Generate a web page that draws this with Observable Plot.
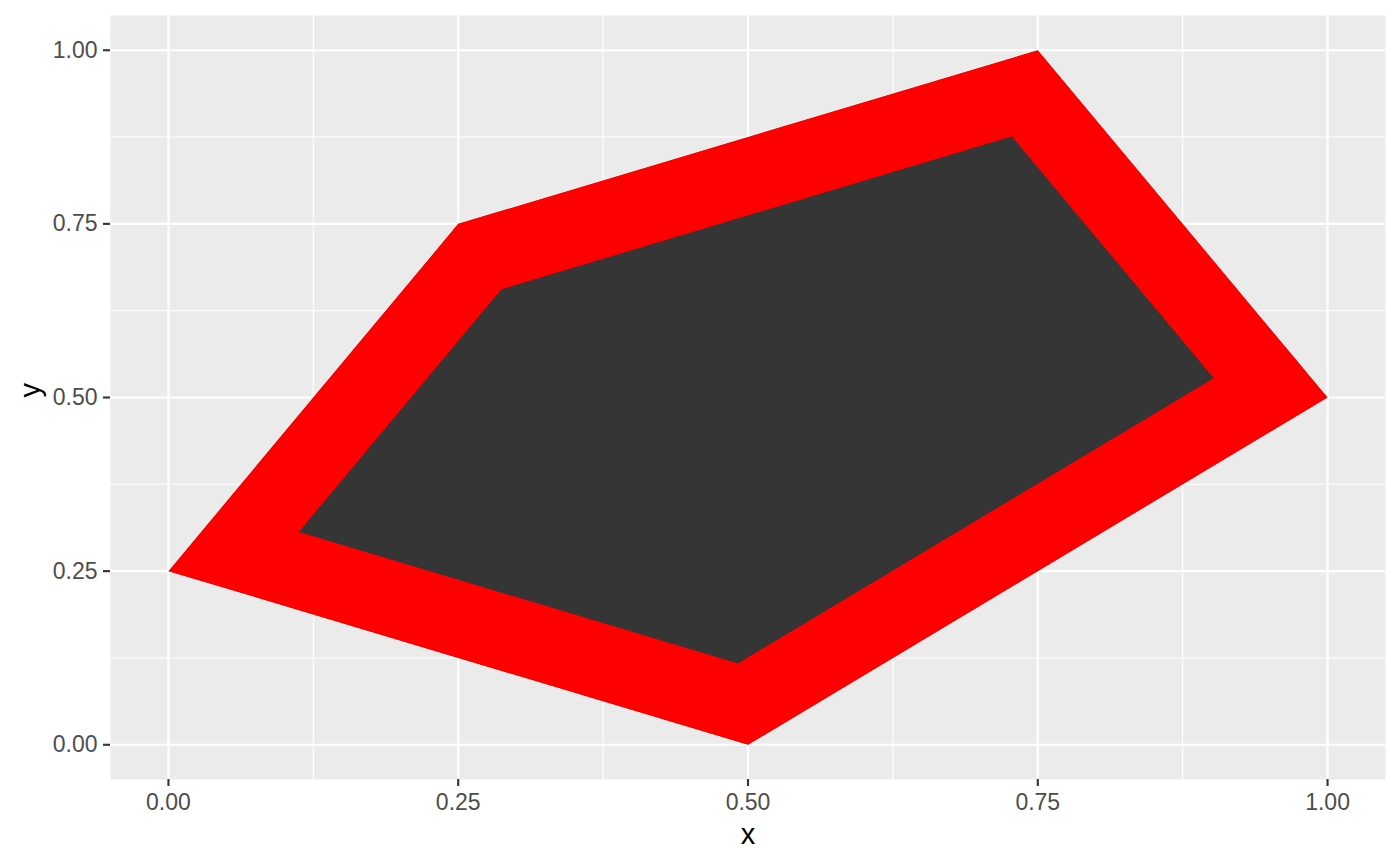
<!DOCTYPE html>
<html>
<head>
<meta charset="utf-8">
<script src="https://cdn.jsdelivr.net/npm/d3@7"></script>
<script src="https://cdn.jsdelivr.net/npm/@observablehq/plot@0.6"></script>
<style>
  html, body { margin: 0; padding: 0; background: #ffffff; }
  #chart svg { display: block; }
</style>
</head>
<body>
<div id="chart"></div>
<script>
// Polygon vertices (data)
const polyX = [0, 0.25, 0.75, 1, 0.5];
const polyY = [0.25, 0.75, 1, 0.5, 0];
// Axis ticks
const majorTicks = [0, 0.25, 0.5, 0.75, 1];
const minorTicks = [0.125, 0.375, 0.625, 0.875];
const tickLabels = ["0.00", "0.25", "0.50", "0.75", "1.00"];

const poly = polyX.map((x, i) => ({x, y: polyY[i]}));
const fmt = d => tickLabels[majorTicks.indexOf(d)];

const font = "'Liberation Sans', Arial, Helvetica, sans-serif";

const plot = Plot.plot({
  width: 1400,
  height: 866,
  marginLeft: 110,
  marginRight: 15,
  marginTop: 15,
  marginBottom: 87,
  style: {fontFamily: font, background: "#ffffff", overflow: "visible"},
  x: {domain: [-0.05, 1.05]},
  y: {domain: [-0.05, 1.05]},
  marks: [
    Plot.frame({fill: "#ebebeb", stroke: null}),
    Plot.ruleX(minorTicks, {stroke: "#ffffff", strokeWidth: 1.1}),
    Plot.ruleY(minorTicks, {stroke: "#ffffff", strokeWidth: 1.1}),
    Plot.ruleX(majorTicks, {stroke: "#ffffff", strokeWidth: 2.2}),
    Plot.ruleY(majorTicks, {stroke: "#ffffff", strokeWidth: 2.2}),
    Plot.line(poly, {
      x: "x", y: "y",
      curve: "linear-closed",
      fill: "#353535",
      stroke: "#ff0000",
      strokeWidth: 150,
      strokeLinejoin: "miter",
      strokeMiterlimit: 10,
      className: "polyline"
    }),
    Plot.axisX(majorTicks, {
      tickSize: 7, tickPadding: 7, tickFormat: fmt, fontSize: 23,
      label: null, strokeWidth: 2.1
    }),
    Plot.axisY(majorTicks, {
      tickSize: 7, tickPadding: 6, tickFormat: fmt, fontSize: 23,
      label: null, strokeWidth: 2.1
    }),
    Plot.text(["x"], {frameAnchor: "bottom", dy: 64, text: d => d, fontSize: 29, fill: "#000000"}),
    Plot.text(["y"], {frameAnchor: "left", dx: -80, text: d => d, fontSize: 29, fill: "#000000", rotate: -90})
  ]
});

// Clip the thick stroke to the polygon's own interior (inner stroke like ggplot)
const NS = "http://www.w3.org/2000/svg";
d3.select(plot).selectAll(".polyline path").each(function(_, i) {
  const id = "polyclip" + i;
  const defs = document.createElementNS(NS, "defs");
  const cp = document.createElementNS(NS, "clipPath");
  cp.setAttribute("id", id);
  const p = document.createElementNS(NS, "path");
  p.setAttribute("d", this.getAttribute("d"));
  cp.appendChild(p);
  defs.appendChild(cp);
  plot.insertBefore(defs, plot.firstChild);
  this.setAttribute("clip-path", `url(#${id})`);
});

// Axis colours like ggplot (ticks gray20, labels gray30)
d3.select(plot).selectAll("[aria-label='x-axis tick'], [aria-label='y-axis tick']").attr("stroke", "#333333");
d3.select(plot).selectAll("[aria-label='x-axis tick label'], [aria-label='y-axis tick label']")
  .attr("fill", "#4d4d4d").attr("font-size", 23);

document.getElementById("chart").appendChild(plot);
</script>
</body>
</html>
